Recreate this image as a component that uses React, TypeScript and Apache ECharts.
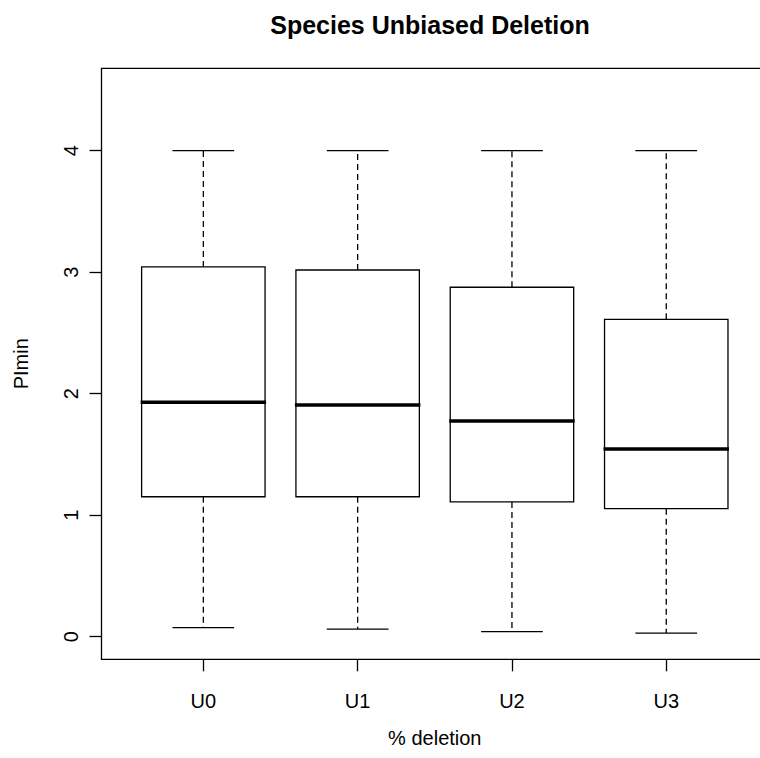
import React, { useEffect, useRef } from "react";
import * as echarts from "echarts";

const categories = ["U0", "U1", "U2", "U3"];
const whiskerLow = [0.074, 0.063, 0.041, 0.03];
const q1 = [1.152, 1.152, 1.109, 1.054];
const median = [1.929, 1.907, 1.775, 1.545];
const q3 = [3.043, 3.018, 2.876, 2.612];
const whiskerHigh = [4, 4, 4, 4];
const yTicks = [0, 1, 2, 3, 4];
const xPositions = [1, 2, 3, 4];

const FONT = "'Liberation Sans', Arial, Helvetica, sans-serif";

export default function App() {
  const ref = useRef<HTMLDivElement>(null);
  useEffect(() => {
    if (!ref.current) return;
    const chart = echarts.init(ref.current, undefined, { renderer: "svg" });
    const data = categories.map((_, i) => [
      xPositions[i],
      whiskerLow[i],
      q1[i],
      median[i],
      q3[i],
      whiskerHigh[i],
    ]);
    const lw = 1.3;
    chart.setOption({
      animation: false,
      backgroundColor: "#ffffff",
      textStyle: { fontFamily: FONT },
      grid: {
        left: 101.5,
        right: 1.9,
        top: 68.3,
        bottom: 98.7,
        show: true,
        borderColor: "#000",
        borderWidth: lw,
        backgroundColor: "transparent",
      },
      graphic: [
        {
          type: "text",
          x: 430,
          y: 24.5,
          style: {
            text: "Species Unbiased Deletion",
            font: `bold 25px ${FONT}`,
            fill: "#000",
            textAlign: "center",
            textVerticalAlign: "middle",
          },
        },
      ],
      xAxis: {
        type: "value",
        min: 0.34,
        max: 4.66,
        axisLine: { show: false, onZero: false },
        splitLine: { show: false },
        axisTick: {
          show: true,
          length: 12,
          customValues: xPositions,
          lineStyle: { color: "#000", width: lw },
        },
        axisLabel: {
          customValues: xPositions,
          margin: 32,
          fontSize: 20,
          fontFamily: FONT,
          color: "#000",
          formatter: (v: number) => categories[Math.round(v) - 1] ?? "",
        },
        name: "% deletion",
        nameLocation: "middle",
        nameGap: 69,
        nameTextStyle: { fontSize: 20, fontFamily: FONT, color: "#000" },
      },
      yAxis: {
        type: "value",
        min: -0.186,
        max: 4.678,
        axisLine: { show: false, onZero: false },
        splitLine: { show: false },
        axisTick: {
          show: true,
          length: 12,
          customValues: yTicks,
          lineStyle: { color: "#000", width: lw },
        },
        axisLabel: {
          customValues: yTicks,
          rotate: 90,
          margin: 20.5,
          fontSize: 20,
          fontFamily: FONT,
          color: "#000",
        },
        name: "PImin",
        nameLocation: "middle",
        nameGap: 70.8,
        nameTextStyle: { fontSize: 20, fontFamily: FONT, color: "#000" },
      },
      series: [
        {
          type: "custom",
          data,
          clip: false,
          renderItem: (params: any, api: any) => {
            const x = api.value(0);
            const pLow = api.coord([x, api.value(1)]);
            const pQ1 = api.coord([x, api.value(2)]);
            const pMed = api.coord([x, api.value(3)]);
            const pQ3 = api.coord([x, api.value(4)]);
            const pHigh = api.coord([x, api.value(5)]);
            const left = api.coord([x - 0.4, 0])[0];
            const right = api.coord([x + 0.4, 0])[0];
            const capL = api.coord([x - 0.2, 0])[0];
            const capR = api.coord([x + 0.2, 0])[0];
            const cx = pMed[0];
            const solid = { stroke: "#000", lineWidth: lw, fill: null };
            const dashed = { stroke: "#000", lineWidth: lw, lineDash: [6, 4] };
            return {
              type: "group",
              children: [
                {
                  type: "line",
                  shape: { x1: cx, y1: pQ3[1], x2: cx, y2: pHigh[1] },
                  style: dashed,
                },
                {
                  type: "line",
                  shape: { x1: cx, y1: pQ1[1], x2: cx, y2: pLow[1] },
                  style: dashed,
                },
                {
                  type: "line",
                  shape: { x1: capL, y1: pHigh[1], x2: capR, y2: pHigh[1] },
                  style: solid,
                },
                {
                  type: "line",
                  shape: { x1: capL, y1: pLow[1], x2: capR, y2: pLow[1] },
                  style: solid,
                },
                {
                  type: "rect",
                  shape: {
                    x: left,
                    y: pQ3[1],
                    width: right - left,
                    height: pQ1[1] - pQ3[1],
                  },
                  style: { stroke: "#000", lineWidth: lw, fill: "#fff" },
                },
                {
                  type: "line",
                  shape: { x1: left - 1, y1: pMed[1], x2: right + 1, y2: pMed[1] },
                  style: { stroke: "#000", lineWidth: 3.5 },
                },
              ],
            };
          },
        },
      ],
    });
    return () => chart.dispose();
  }, []);
  return (
    <div
      style={{
        position: "absolute",
        left: 0,
        top: 0,
        width: 760,
        height: 758,
        overflow: "hidden",
        background: "#fff",
      }}
    >
      <div ref={ref} style={{ width: 770, height: 758 }} />
    </div>
  );
}
